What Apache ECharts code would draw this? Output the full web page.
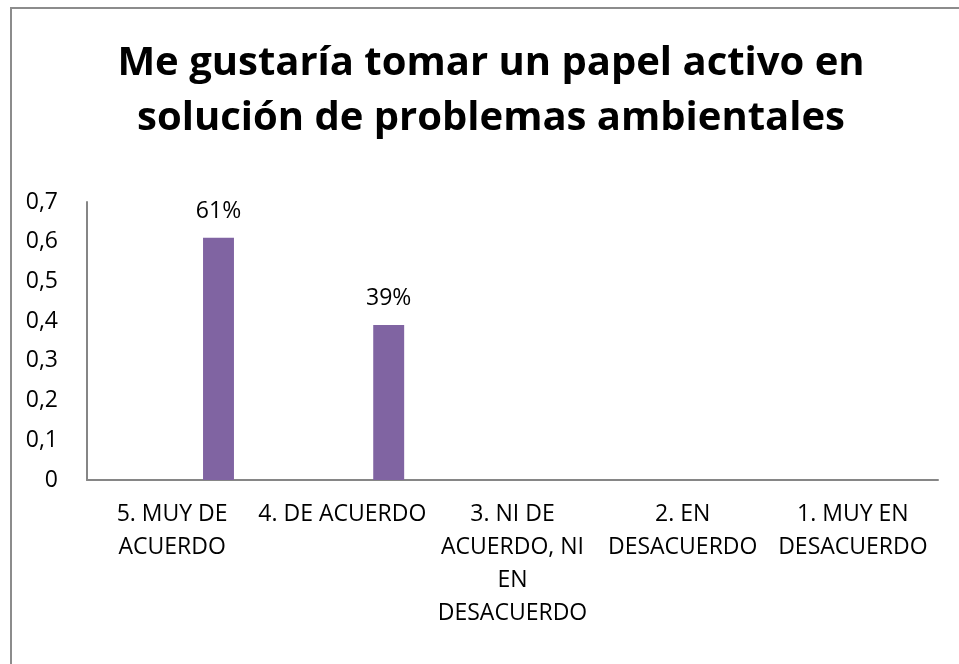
<!DOCTYPE html>
<html>
<head>
<meta charset="utf-8">
<script src="https://cdn.jsdelivr.net/npm/echarts@6/dist/echarts.min.js"></script>
<style>
  html, body { margin: 0; padding: 0; background: #fff; }
  #chart { width: 959px; height: 664px; }
</style>
</head>
<body>
<div id="chart"></div>
<script>
// Values.
const TITLE = "Me gustaría tomar un papel activo en\nsolución de problemas ambientales";
const CATEGORIES = [
  "5. MUY DE\nACUERDO",
  "4. DE ACUERDO",
  "3. NI DE\nACUERDO, NI\nEN\nDESACUERDO",
  "2. EN\nDESACUERDO",
  "1. MUY EN\nDESACUERDO",
];
const SHARES = [0.61, 0.39, 0, 0, 0];
// The original workbook plots three empty series ahead of this one, which is
// why the bars sit right of each category centre. Keep them as empty slots.
const EMPTY_SERIES = ["Serie 1", "Serie 2", "Serie 3"];
const Y_MIN = 0;
const Y_MAX = 0.7;
const Y_STEP = 0.1;

const FONT = "'Open Sans', sans-serif";
const BAR_COLOR = "#8064a2";
const AXIS_COLOR = "#868686";

const commaDecimal = (v) => (v === 0 ? "0" : v.toFixed(1).replace(".", ","));
const pct = (p) => (p.value ? Math.round(p.value * 100) + "%" : "");

const series = EMPTY_SERIES.map((name) => ({ name, type: "bar", data: [] }));
series.push({
  name: "Respuestas",
  type: "bar",
  data: SHARES,
  itemStyle: { color: BAR_COLOR },
  label: {
    show: true,
    position: "top",
    distance: 15,
    formatter: pct,
    color: "#000",
    fontFamily: FONT,
    fontSize: 23,
  },
});
series.forEach((s) => {
  s.barGap = "0%";
  s.barCategoryGap = "27.3%";
});

const chart = echarts.init(document.getElementById("chart"), null, { renderer: "canvas" });
chart.setOption({
  animation: false,
  title: {
    text: TITLE,
    left: 491,
    textAlign: "center",
    top: 36,
    padding: 0,
    textStyle: {
      fontFamily: FONT,
      fontWeight: "bold",
      fontSize: 40,
      lineHeight: 55,
      color: "#000",
    },
  },
  graphic: [
    {
      // chart frame: only its left and top edges fall inside the picture
      type: "rect",
      shape: { x: 11, y: 8, width: 1200, height: 900 },
      style: { fill: null, stroke: "#8c8c8c", lineWidth: 2 },
      silent: true,
    },
  ],
  grid: { left: 87, right: 21, top: 202, bottom: 184, containLabel: false },
  xAxis: {
    type: "category",
    data: CATEGORIES,
    axisLine: { show: true, lineStyle: { color: AXIS_COLOR, width: 2 } },
    axisTick: { show: false },
    axisLabel: {
      interval: 0,
      margin: 18,
      color: "#000",
      fontFamily: FONT,
      fontSize: 23,
      lineHeight: 33,
    },
  },
  yAxis: {
    type: "value",
    min: Y_MIN,
    max: Y_MAX,
    interval: Y_STEP,
    axisLine: { show: true, lineStyle: { color: AXIS_COLOR, width: 2 } },
    axisTick: { show: false },
    splitLine: { show: false },
    axisLabel: {
      margin: 29,
      color: "#000",
      fontFamily: FONT,
      fontSize: 23,
      formatter: commaDecimal,
    },
  },
  series,
});
</script>
</body>
</html>
